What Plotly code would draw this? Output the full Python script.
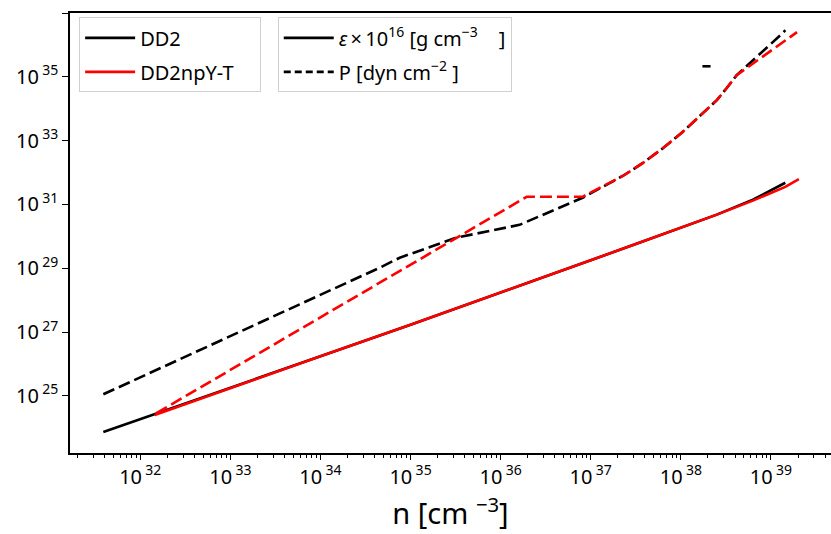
import numpy as np
import plotly.graph_objects as go

# ---- data (log10 values) ----
dd2_eps_logn = [31.59, 32.0, 33.0, 34.0, 35.0, 36.0, 37.0, 37.5, 38.0, 38.4, 38.8, 39.16]
dd2_eps_logv = [23.87, 24.27, 25.25, 26.24, 27.23, 28.23, 29.25, 29.76, 30.27, 30.68, 31.15, 31.68]

npy_eps_logn = [32.16, 33.0, 34.0, 35.0, 36.0, 37.0, 37.5, 38.0, 38.4, 38.8, 39.16, 39.31]
npy_eps_logv = [24.40, 25.25, 26.24, 27.23, 28.23, 29.25, 29.76, 30.27, 30.68, 31.12, 31.55, 31.79]

dd2_p_logn = [31.59, 32.5, 33.3, 33.77, 34.66, 34.88, 35.51, 36.21, 36.91, 37.13, 37.36, 37.58,
              37.80, 38.02, 38.21, 38.40, 38.51, 38.62, 39.13, 39.16]
dd2_p_logv = [25.05, 26.22, 27.24, 27.87, 29.02, 29.33, 29.96, 30.36, 31.21, 31.55, 31.90, 32.30,
              32.76, 33.27, 33.77, 34.27, 34.65, 35.05, 36.37, 36.46]

dd2_p_blip_logn = [38.24, 38.33]
dd2_p_blip_logv = [35.33, 35.33]

npy_p_logn = [32.18, 35.51, 36.29, 36.91, 37.13, 37.36, 37.58, 37.80, 38.02, 38.21,
              38.40, 38.51, 38.62, 39.29]
npy_p_logv = [24.46, 29.96, 31.24, 31.24, 31.55, 31.90, 32.30, 32.76, 33.27, 33.77,
              34.27, 34.65, 35.05, 36.40]

ytick_exps = [25, 27, 29, 31, 33, 35, 37]
xtick_exps = [32, 33, 34, 35, 36, 37, 38, 39]

def p10(a):
    return (10.0 ** np.array(a)).tolist()

FONT = "Noto Sans"
DASH = "12px,5px"
LW = 2.6
NB = "\u00a0"

fig = go.Figure()
fig.add_trace(go.Scatter(x=p10(dd2_eps_logn), y=p10(dd2_eps_logv), mode="lines",
                         line=dict(color="black", width=LW), showlegend=False))
fig.add_trace(go.Scatter(x=p10(dd2_p_logn), y=p10(dd2_p_logv), mode="lines",
                         line=dict(color="black", width=LW, dash=DASH), showlegend=False))
fig.add_trace(go.Scatter(x=p10(dd2_p_blip_logn), y=p10(dd2_p_blip_logv), mode="lines",
                         line=dict(color="black", width=LW), showlegend=False))
fig.add_trace(go.Scatter(x=p10(npy_eps_logn), y=p10(npy_eps_logv), mode="lines",
                         line=dict(color="red", width=LW), showlegend=False))
fig.add_trace(go.Scatter(x=p10(npy_p_logn), y=p10(npy_p_logv), mode="lines",
                         line=dict(color="red", width=LW, dash=DASH), showlegend=False))

# legend entries
fig.add_trace(go.Scatter(x=[None], y=[None], mode="lines", name="DD2",
                         line=dict(color="black", width=LW), legend="legend", legendgroup="a"))
fig.add_trace(go.Scatter(x=[None], y=[None], mode="lines", name="DD2npY-T" + NB * 4,
                         line=dict(color="red", width=LW), legend="legend", legendgroup="b"))
fig.add_trace(go.Scatter(x=[None], y=[None], mode="lines",
                         name="<i>ε</i>\u2009×\u200910<sup>16</sup> [g cm<sup>−3</sup>" + NB * 4 + "]",
                         line=dict(color="black", width=LW), legend="legend2", legendgroup="c"))
fig.add_trace(go.Scatter(x=[None], y=[None], mode="lines",
                         name="P [dyn cm<sup>−2</sup> ]",
                         line=dict(color="black", width=LW, dash="7px,4px"), legend="legend2", legendgroup="d"))

minor_vals = []
for e in range(31, 40):
    for k in range(2, 10):
        minor_vals.append(k * 10.0 ** e)

leg_common = dict(bgcolor="rgba(255,255,255,0.8)", bordercolor="#d0d0d0", borderwidth=1,
                  font=dict(family=FONT, size=20, color="black"), traceorder="grouped",
                  tracegroupgap=5, xanchor="left", yanchor="top", itemwidth=50)

fig.update_layout(
    width=831, height=534,
    margin=dict(l=70, r=0, t=13, b=81),
    plot_bgcolor="white", paper_bgcolor="white",
    font=dict(family=FONT, color="black"),
    legend=dict(x=0.012, y=0.99, **leg_common),
    legend2=dict(x=0.273, y=0.99, **leg_common),
    xaxis=dict(type="log", range=[31.22, 39.667], showgrid=False, zeroline=False,
               showline=True, linecolor="black", linewidth=1.6, mirror=True,
               ticks="outside", ticklen=5, tickwidth=1.2, tickcolor="black",
               tickvals=[10.0 ** e for e in xtick_exps],
               ticktext=[f"10\u2009<sup>{e}</sup>" for e in xtick_exps],
               tickfont=dict(family=FONT, size=20),
               minor=dict(ticks="outside", ticklen=3, tickwidth=1, tickcolor="black",
                          tickvals=minor_vals, showgrid=False),
               title=dict(text="n [cm <sup>−3</sup>]", font=dict(family=FONT, size=29), standoff=4)),
    yaxis=dict(type="log", range=[23.21, 37.0], showgrid=False, zeroline=False,
               showline=True, linecolor="black", linewidth=1.6, mirror=False,
               ticks="outside", ticklen=6, tickwidth=1.2, tickcolor="black",
               tickvals=[10.0 ** e for e in ytick_exps],
               ticktext=[f"10\u2009<sup>{e}</sup>" for e in ytick_exps],
               tickfont=dict(family=FONT, size=20)),
)

fig.write_html("out.html")
